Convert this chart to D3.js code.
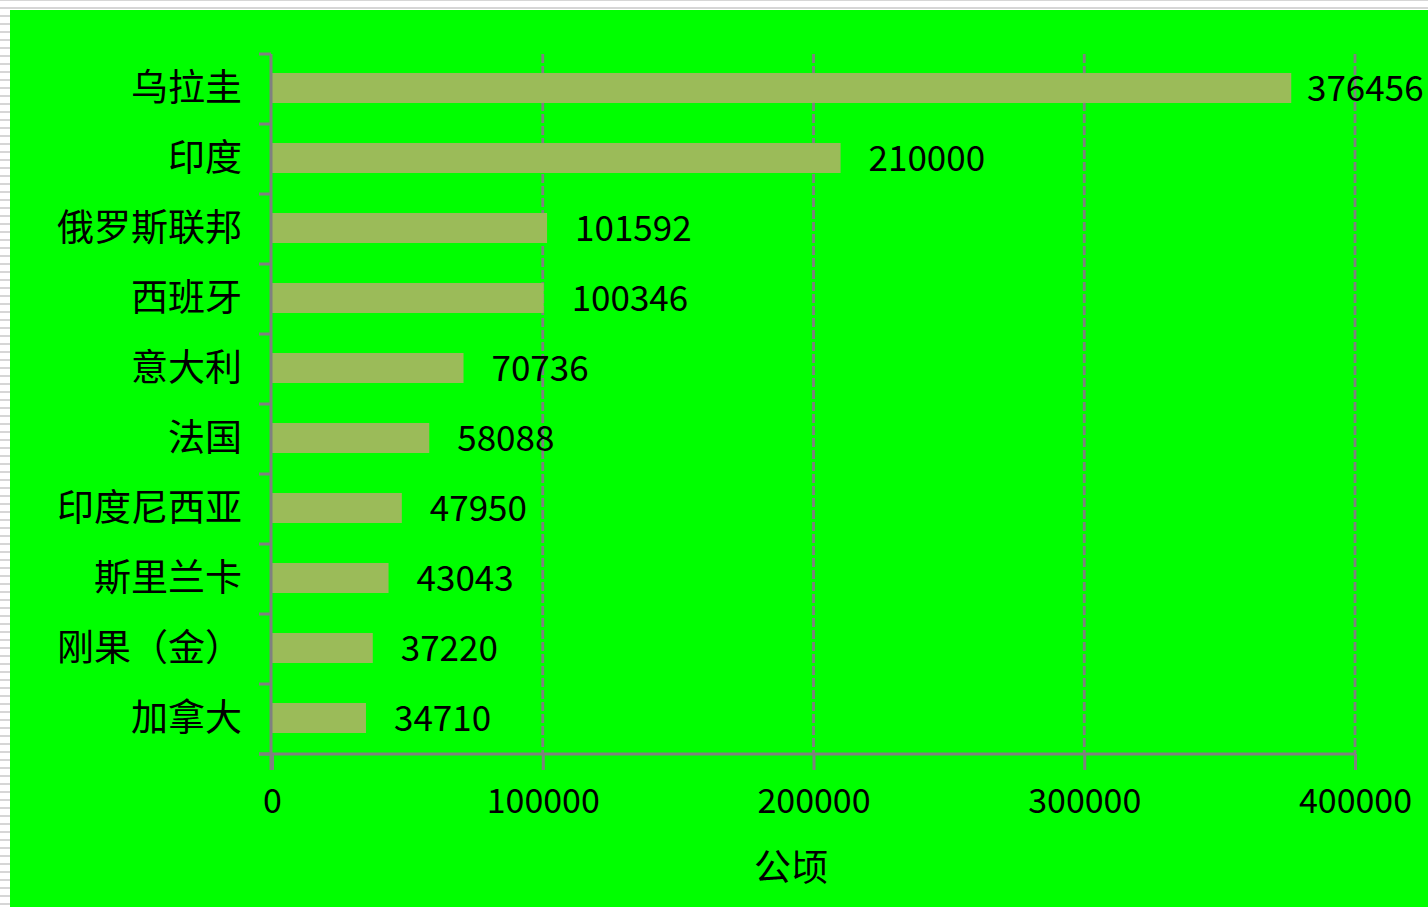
<!DOCTYPE html>
<html><head><meta charset="utf-8">
<script src="https://cdn.jsdelivr.net/npm/d3@7"></script>
<style>html,body{margin:0;padding:0;background:#fff;overflow:hidden}</style>
</head><body>
<script>
const categories = ["乌拉圭","印度","俄罗斯联邦","西班牙","意大利","法国","印度尼西亚","斯里兰卡","刚果（金）","加拿大"];
const values = [376456,210000,101592,100346,70736,58088,47950,43043,37220,34710];
const xTicks = [0,100000,200000,300000,400000];
const axisTitle = "公顷";

const W = 1428, H = 907;
const svg = d3.select("body").append("svg").attr("width", W).attr("height", H);
const defs = svg.append("defs");
const pat = defs.append("pattern").attr("id","stripes").attr("patternUnits","userSpaceOnUse")
  .attr("width",8).attr("height",8);
pat.append("rect").attr("width",8).attr("height",8).attr("fill","#fff");
pat.append("rect").attr("y",7).attr("width",8).attr("height",1).attr("fill","#d6d6d6");
pat.append("rect").attr("y",0).attr("width",8).attr("height",1).attr("fill","#d6d6d6");
svg.append("rect").attr("width",W).attr("height",H).attr("fill","url(#stripes)");
svg.append("rect").attr("x",10).attr("y",10).attr("width",W-10).attr("height",H-10).attr("fill","#00ff00");

const x = d3.scaleLinear().domain([0,400000]).range([272,1355]);
const y = d3.scaleBand().domain(categories).range([54,754]).paddingInner(0).paddingOuter(0);
const barH = 30;
const grey = "#808080";
const font = "'Noto Sans CJK SC', 'Noto Sans', sans-serif";

// gridlines
svg.append("g").selectAll("line").data(xTicks.filter(d=>d>0)).join("line")
  .attr("x1",d=>x(d)).attr("x2",d=>x(d)).attr("y1",54).attr("y2",754)
  .attr("stroke",grey).attr("stroke-width",2.8).attr("stroke-dasharray","9,3");

// bars
svg.append("g").selectAll("rect").data(values).join("rect")
  .attr("x",x(0)).attr("y",(d,i)=>y(categories[i])+y.bandwidth()/2-barH/2-1)
  .attr("width",d=>x(d)-x(0)).attr("height",barH).attr("fill","#9bbb59");

// x axis
const xAxis = d3.axisBottom(x).tickValues(xTicks).tickSize(16).tickFormat(d3.format("d"));
const gx = svg.append("g").attr("transform","translate(0,754)").call(xAxis);
gx.select(".domain").remove();
gx.selectAll(".tick line").attr("stroke",grey).attr("stroke-width",3);
gx.selectAll(".tick text").attr("y",47).attr("dy","0.35em").attr("font-family",font).attr("font-size",34).attr("fill","#000");
svg.append("line").attr("x1",259).attr("x2",1356).attr("y1",754).attr("y2",754).attr("stroke",grey).attr("stroke-width",3);

// y axis
svg.append("line").attr("x1",271).attr("x2",271).attr("y1",54).attr("y2",770).attr("stroke",grey).attr("stroke-width",3);
const yTickPos = categories.map(c=>y(c)).concat([754]);
svg.append("g").selectAll("line").data(yTickPos).join("line")
  .attr("x1",259).attr("x2",271).attr("y1",d=>d).attr("y2",d=>d).attr("stroke",grey).attr("stroke-width",3);
svg.append("g").selectAll("text").data(categories).join("text")
  .attr("x",242).attr("y",d=>y(d)+y.bandwidth()/2-1).attr("dy","0.36em")
  .attr("text-anchor","end").attr("font-family",font).attr("font-size",37).attr("fill","#000").text(d=>d);

// value labels
svg.append("g").selectAll("text").data(values).join("text")
  .attr("x",d=>Math.min(x(d)+28, 1307))
  .attr("y",(d,i)=>y(categories[i])+y.bandwidth()/2-1).attr("dy","0.36em")
  .attr("font-family",font).attr("font-size",35).attr("fill","#000").text(d=>d);

svg.append("text").attr("x",791).attr("y",868).attr("dy","0.36em").attr("text-anchor","middle")
  .attr("font-family",font).attr("font-size",37).attr("fill","#000").text(axisTitle);
</script>
</body></html>
